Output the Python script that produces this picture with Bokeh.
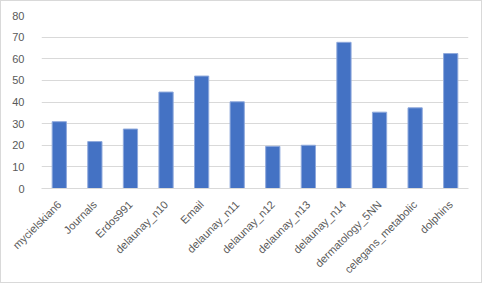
import math
from bokeh.plotting import figure
from bokeh.models import Range1d, FixedTicker
from bokeh.embed import file_html
from bokeh.resources import INLINE

categories = ["mycielskian6", "Journals", "Erdos991", "delaunay_n10", "Email",
              "delaunay_n11", "delaunay_n12", "delaunay_n13", "delaunay_n14",
              "dermatology_5NN", "celegans_metabolic", "dolphins"]
values = [30.9, 21.7, 27.5, 44.6, 52.0, 40.1, 19.5, 20.0, 67.6, 35.3, 37.3, 62.4]
y_ticks = [0, 10, 20, 30, 40, 50, 60, 70, 80]

p = figure(x_range=categories, y_range=Range1d(0, 80), width=482, height=283,
           output_backend="svg", toolbar_location=None,
           min_border_left=40, min_border_right=15, min_border_top=14, min_border_bottom=96)

p.vbar(x=categories, top=values, width=0.4, fill_color="#4472C4",
       line_color="#8fa9dc", line_width=1)

font = "Liberation Sans"
p.outline_line_color = None
p.background_fill_color = "white"
p.border_fill_color = "white"
p.styles = {"border": "1px solid #d9d9d9"}

p.xgrid.grid_line_color = None
p.ygrid.grid_line_color = "#d9d9d9"
p.ygrid.grid_line_width = 1
p.yaxis.ticker = FixedTicker(ticks=y_ticks)

p.yaxis.axis_line_color = None
p.yaxis.major_tick_line_color = None
p.yaxis.minor_tick_line_color = None
p.yaxis.major_label_text_font = font
p.yaxis.major_label_text_font_size = "11px"
p.yaxis.major_label_text_color = "#595959"
p.yaxis.major_label_standoff = 11

p.xaxis.axis_line_color = "#d9d9d9"
p.xaxis.major_tick_line_color = None
p.xaxis.minor_tick_line_color = None
p.xaxis.major_label_orientation = math.pi / 4
p.xaxis.major_label_text_font = font
p.xaxis.major_label_text_font_size = "11px"
p.xaxis.major_label_text_color = "#595959"
p.xaxis.major_label_standoff = 8

open("out.html", "w").write(file_html(p, INLINE))
